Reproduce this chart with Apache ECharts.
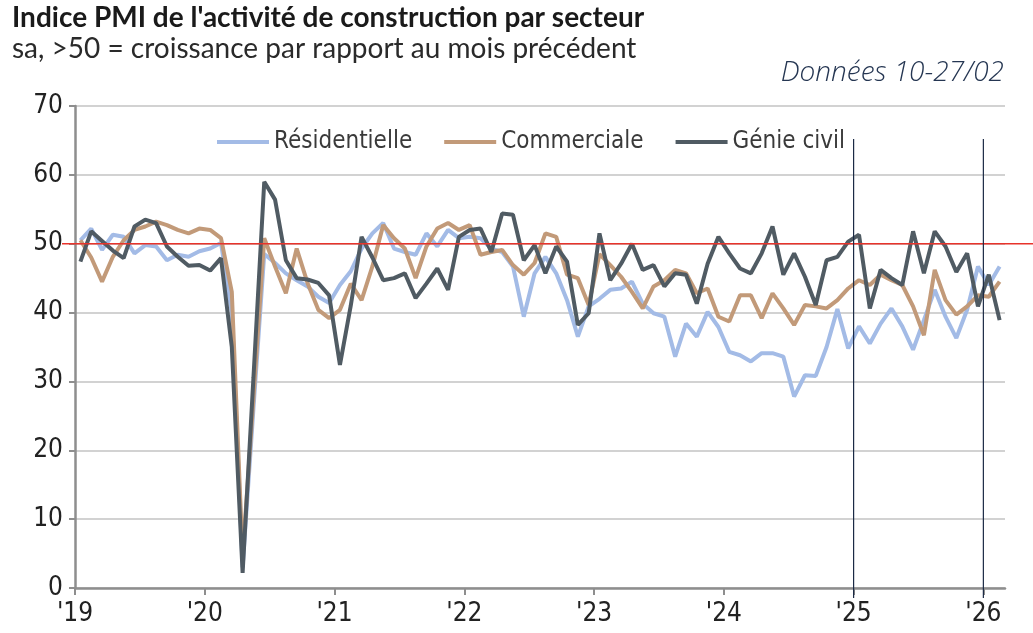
<!DOCTYPE html>
<html>
<head>
<meta charset="utf-8">
<script src="https://cdn.jsdelivr.net/npm/echarts@6/dist/echarts.min.js"></script>
<style>
  html, body { margin: 0; padding: 0; background: #fff; }
  #chart { width: 1033px; height: 633px; }
</style>
</head>
<body>
<div id="chart"></div>
<script>
// monthly, Jan 2019 .. Feb 2026
var seriesNames = ['Résidentielle', 'Commerciale', 'Génie civil'];
var yearLabels = ["'19", "'20", "'21", "'22", "'23", "'24", "'25", "'26"];

var residentielle = [
  50.5, 52.2, 49.1, 51.3, 51.0, 48.6, 49.8, 49.6, 47.6, 48.4, 48.1, 48.9,
  49.3, 50.1, 40.0, 3.0, 26.0, 48.5, 47.2, 45.7, 44.7, 43.8, 42.3, 41.4,
  44.0, 46.0, 49.3, 51.5, 53.0, 49.3, 48.8, 48.4, 51.5, 49.6, 52.0, 50.8,
  51.0, 50.8, 49.3, 48.8, 46.7, 39.4, 45.7, 48.1, 45.7, 41.8, 36.5, 40.9,
  42.0, 43.3, 43.5, 44.5, 41.3, 39.9, 39.4, 33.6, 38.4, 36.5, 40.1, 37.9,
  34.3, 33.8, 32.9, 34.1, 34.1, 33.6, 27.8, 30.9, 30.8, 35.0, 40.5, 34.8,
  38.0, 35.5, 38.4, 40.6, 38.0, 34.6, 38.9, 43.3, 39.4, 36.3, 40.4, 46.7,
  44.0, 46.7
];
var commerciale = [
  50.5, 48.0, 44.5, 48.1, 50.5, 52.0, 52.5, 53.2, 52.7, 52.0, 51.5, 52.2,
  52.0, 50.8, 43.0, 4.5, 27.5, 50.8, 46.7, 42.8, 49.3, 44.3, 40.4, 39.2,
  40.4, 44.2, 41.8, 46.7, 52.7, 50.8, 49.3, 45.0, 49.6, 52.2, 53.0, 52.0,
  52.7, 48.4, 48.8, 49.1, 46.9, 45.5, 47.2, 51.5, 51.0, 45.5, 45.0, 41.1,
  48.5, 46.9, 45.2, 43.0, 40.6, 43.8, 44.7, 46.2, 45.7, 42.8, 43.5, 39.4,
  38.7, 42.5, 42.5, 39.2, 42.8, 40.6, 38.2, 41.1, 40.9, 40.6, 41.8, 43.5,
  44.7, 44.0, 45.5, 44.7, 44.0, 40.9, 36.7, 46.2, 41.8, 39.7, 40.9, 42.5,
  42.3, 44.5
];
var genieCivil = [
  47.4, 51.8, 50.4, 49.0, 47.9, 52.5, 53.5, 53.0, 49.6, 48.1, 46.8, 46.9,
  46.1, 47.9, 35.0, 2.2, 30.5, 59.0, 56.4, 47.6, 45.0, 44.8, 44.3, 42.5,
  32.4, 41.0, 51.0, 48.0, 44.7, 45.0, 45.7, 42.1, 44.2, 46.4, 43.3, 51.0,
  52.0, 52.2, 48.8, 54.4, 54.2, 47.6, 49.8, 45.7, 49.6, 47.4, 38.2, 39.9,
  51.5, 44.7, 47.1, 50.0, 46.2, 46.9, 43.8, 45.7, 45.5, 41.3, 47.1, 51.0,
  48.6, 46.4, 45.7, 48.6, 52.5, 45.5, 48.6, 45.2, 41.1, 47.6, 48.1, 50.3,
  51.3, 40.6, 46.2, 45.0, 44.0, 51.8, 45.7, 51.8, 49.6, 45.9, 48.6, 40.9,
  45.5, 38.9
];
var seuil = 50;
var marqueurs = ["'25", "'26"];

var colors = ['#a3bbe6', '#c29a79', '#505b63'];
var axisFont = "'Liberation Sans Narrow', 'DejaVu Sans Condensed', 'Liberation Sans', sans-serif";

function toPoints(arr) {
  return arr.map(function (v, i) { return [i + 0.5, v]; });
}
var nMonths = residentielle.length;
var yearTicks = yearLabels.map(function (l, k) { return k * 12; });

var dom = document.getElementById('chart');
var myChart = echarts.init(dom);
var option = {
  animation: false,
  color: colors,
  title: [
    {
      text: "Indice PMI de l'activité de construction par secteur",
      subtext: 'sa, >50 = croissance par rapport au mois précédent',
      left: 7,
      top: -1,
      itemGap: 3,
      textStyle: { fontFamily: 'Lato', fontWeight: 'bold', fontSize: 28, color: '#1a1a1a' },
      subtextStyle: { fontFamily: 'Lato', fontSize: 28, color: '#2a2a2a' }
    },
    {
      text: 'Données 10-27/02',
      right: 24,
      top: 54,
      textStyle: { fontFamily: 'Open Sans', fontStyle: 'italic', fontWeight: 300, fontSize: 28, color: '#253652' }
    }
  ],
  legend: {
    left: 212,
    top: 125,
    icon: 'rect',
    itemWidth: 52,
    itemHeight: 4,
    itemGap: 32,
    textStyle: { fontFamily: axisFont, fontSize: 24, color: '#3a3a3a' },
    data: seriesNames
  },
  grid: { left: 75, right: 28, top: 106, bottom: 45 },
  xAxis: {
    type: 'value',
    min: 0,
    max: nMonths,
    interval: 12,
    splitLine: { show: false },
    axisLine: { lineStyle: { color: '#8e8e8e', width: 2.5 } },
    axisTick: { customValues: yearTicks, length: 7, lineStyle: { color: '#8e8e8e', width: 2 } },
    axisLabel: {
      customValues: yearTicks,
      margin: 13,
      fontFamily: axisFont,
      fontSize: 26,
      color: '#222',
      formatter: function (v) { return yearLabels[Math.round(v / 12)] || ''; }
    }
  },
  yAxis: {
    type: 'value',
    min: 0,
    max: 70,
    interval: 10,
    axisLine: { show: true, lineStyle: { color: '#8e8e8e', width: 2.5 } },
    axisTick: { show: true, length: 6, lineStyle: { color: '#8e8e8e', width: 2 } },
    splitLine: { lineStyle: { color: '#d2d2d2', width: 2 } },
    axisLabel: { margin: 12, fontFamily: axisFont, fontSize: 26, color: '#222' }
  },
  series: [
    { name: seriesNames[0], type: 'line', data: toPoints(residentielle), symbol: 'none', lineStyle: { width: 4 } },
    { name: seriesNames[1], type: 'line', data: toPoints(commerciale), symbol: 'none', lineStyle: { width: 4 } },
    { name: seriesNames[2], type: 'line', data: toPoints(genieCivil), symbol: 'none', lineStyle: { width: 4 } }
  ]
};
myChart.setOption(option);

// seuil 50 + repères verticaux
var y50 = myChart.convertToPixel({ yAxisIndex: 0 }, seuil);
var yTop = myChart.convertToPixel({ yAxisIndex: 0 }, 65.2);
var yBot = myChart.convertToPixel({ yAxisIndex: 0 }, 0) + 10;
var graphics = [
  {
    type: 'line', z: 100,
    shape: { x1: 62, y1: y50, x2: 1033, y2: y50 },
    style: { stroke: '#e8332b', lineWidth: 1.5 }
  }
];
marqueurs.forEach(function (m) {
  var x = myChart.convertToPixel({ xAxisIndex: 0 }, yearTicks[yearLabels.indexOf(m)]);
  graphics.push({
    type: 'line', z: 100,
    shape: { x1: x, y1: yTop, x2: x, y2: yBot },
    style: { stroke: '#1b2a45', lineWidth: 1.2 }
  });
});
myChart.setOption({ graphic: graphics });
</script>
</body>
</html>
